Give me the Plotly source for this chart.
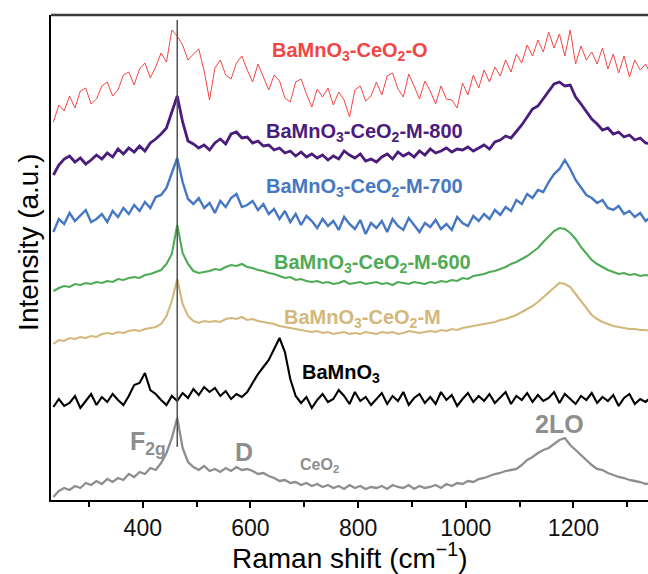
import plotly.graph_objects as go

# Raman shift sampling grid (cm-1)
raman_shift = list(range(234, 1345, 10))

# Intensities (a.u., vertically stacked as plotted)
ceo2_o = [378, 395, 389, 404, 392, 409, 412, 396, 401, 414,
          418, 404, 410, 425, 428, 415, 431, 437, 422, 433,
          447, 438, 470, 464, 455, 440, 446, 451, 429, 400,
          432, 440, 425, 421, 437, 444, 430, 418, 436, 422,
          410, 425, 419, 402, 398, 418, 421, 406, 393, 411,
          403, 412, 395, 408, 400, 383, 410, 414, 399, 404,
          418, 405, 424, 427, 411, 403, 426, 414, 401, 419,
          409, 396, 414, 401, 400, 392, 417, 405, 425, 412,
          430, 418, 433, 424, 440, 428, 446, 437, 455, 444,
          460, 448, 468, 452, 466, 444, 470, 436, 454, 440,
          448, 436, 452, 431, 446, 427, 444, 423, 440, 430,
          436, 425]

m_800 = [325, 335, 341, 344, 338, 342, 336, 340, 345, 341,
         347, 343, 351, 346, 352, 348, 354, 349, 357, 361,
         366, 372, 388, 404, 378, 359, 356, 352, 355, 350,
         357, 361, 356, 366, 368, 362, 363, 357, 359, 354,
         355, 350, 352, 347, 349, 344, 348, 343, 346, 342,
         345, 340, 344, 341, 349, 345, 342, 346, 339, 341,
         338, 343, 346, 341, 348, 344, 347, 343, 349, 345,
         351, 347, 349, 352, 348, 351, 350, 353, 349, 352,
         355, 351, 358, 360, 364, 362, 368, 375, 383, 391,
         394, 401, 408, 416, 418, 414, 415, 403, 396, 388,
         381, 376, 370, 372, 366, 368, 363, 365, 360, 362,
         357, 356]

m_700 = [268, 281, 276, 287, 279, 285, 290, 278, 281, 286,
         278, 289, 283, 292, 286, 295, 289, 298, 292, 303,
         305, 312, 326, 342, 318, 301, 296, 302, 292, 297,
         287, 299, 293, 302, 306, 293, 295, 299, 290, 296,
         286, 291, 281, 289, 278, 286, 275, 284, 279, 272,
         281, 274, 279, 270, 283, 276, 271, 280, 266, 277,
         272, 279, 268, 281, 274, 270, 282, 275, 268, 277,
         273, 280, 271, 276, 270, 283, 277, 274, 284, 279,
         286, 281, 290, 285, 293, 289, 300, 296, 306, 302,
         310, 308, 318, 326, 331, 340, 331, 320, 312, 305,
         302, 297, 300, 292, 290, 294, 286, 289, 283, 287,
         279, 283]

m_600 = [209, 212, 214, 213, 216, 215, 217, 216, 218, 217,
         219, 218, 221, 220, 222, 223, 222, 225, 226, 228,
         230, 236, 246, 275, 247, 236, 229, 227, 228, 229,
         231, 230, 233, 235, 234, 236, 233, 232, 230, 229,
         227, 226, 224, 222, 223, 220, 221, 219, 218, 219,
         217, 218, 216, 217, 219, 216, 217, 218, 216, 217,
         218, 216, 217, 215, 218, 217, 216, 218, 217, 216,
         218, 217, 219, 218, 220, 219, 222, 221, 224, 225,
         226, 228, 229, 231, 233, 236, 238, 241, 244, 248,
         252, 258, 264, 269, 272, 271, 267, 261, 253, 246,
         240, 236, 233, 230, 228, 226, 227, 225, 226, 224,
         225, 224]

m_plain = [156, 160, 159, 162, 161, 163, 162, 164, 163, 166,
           167, 166, 168, 167, 169, 170, 169, 171, 172, 173,
           176, 184, 199, 221, 196, 184, 179, 177, 179, 178,
           179, 178, 181, 182, 181, 183, 180, 181, 179, 178,
           177, 176, 174, 173, 172, 171, 170, 169, 168, 169,
           167, 168, 166, 167, 168, 166, 167, 166, 168, 167,
           166, 168, 167, 168, 166, 167, 169, 168, 167, 168,
           169, 168, 170, 169, 171, 170, 172, 173, 174, 175,
           176, 177, 178, 180, 181, 183, 185, 188, 191, 194,
           198, 203, 208, 213, 217, 216, 213, 206, 199, 192,
           185, 181, 178, 176, 174, 173, 172, 171, 171, 170,
           170, 169]

bamno3 = [93, 101, 94, 97, 104, 92, 99, 106, 95, 103,
          98, 106, 100, 95, 104, 115, 117, 127, 110, 106,
          100, 95, 104, 99, 107, 102, 111, 105, 113, 108,
          112, 104, 109, 101, 106, 103, 108, 117, 126, 133,
          140, 151, 162, 148, 121, 104, 97, 103, 92, 100,
          106, 98, 101, 110, 104, 96, 108, 99, 103, 95,
          101, 107, 96, 104, 99, 108, 95, 102, 106, 97,
          103, 96, 108, 100, 105, 94, 101, 107, 98, 104,
          99, 106, 97, 103, 108, 96, 104, 100, 107, 98,
          105, 99, 102, 108, 97, 106, 101, 96, 104, 100,
          107, 97, 103, 99, 105, 94, 102, 106, 96, 101,
          98, 103]

ceo2 = [3, 9, 12, 10, 14, 12, 17, 15, 19, 16,
        21, 18, 22, 20, 26, 23, 28, 26, 32, 30,
        37, 47, 62, 82, 52, 38, 33, 30, 34, 29,
        31, 28, 32, 29, 33, 30, 31, 29, 26, 27,
        24, 22, 19, 20, 17, 18, 15, 17, 14, 16,
        13, 15, 12, 14, 11, 15, 12, 14, 11, 13,
        12, 14, 11, 15, 13, 12, 15, 11, 14, 12,
        13, 15, 12, 16, 14, 17, 16, 19, 18, 21,
        22, 24, 26, 27, 29, 30, 31, 35, 40, 43,
        47, 50, 52, 56, 60, 62, 55, 50, 45, 39,
        35, 31, 30, 27, 25, 23, 22, 20, 19, 18,
        16, 17]

series_names = ["BaMnO<sub>3</sub>-CeO<sub>2</sub>-O",
                "BaMnO<sub>3</sub>-CeO<sub>2</sub>-M-800",
                "BaMnO<sub>3</sub>-CeO<sub>2</sub>-M-700",
                "BaMnO<sub>3</sub>-CeO<sub>2</sub>-M-600",
                "BaMnO<sub>3</sub>-CeO<sub>2</sub>-M",
                "BaMnO<sub>3</sub>",
                "CeO<sub>2</sub>"]
series_values = [ceo2_o, m_800, m_700, m_600, m_plain, bamno3, ceo2]
series_colors = ["#F24545", "#4A1C7C", "#4677C2", "#4FAA55", "#D3B77B", "#000000", "#8E8E8E"]
series_widths = [1.0, 2.8, 2.4, 2.1, 2.1, 2.1, 2.3]

# label placement (x in cm-1, y in a.u.)
label_x = [784, 812, 812, 827, 808, 768, 729]
label_y = [449, 368, 313, 237, 182, 127, 35]
label_size = [20, 20, 20, 20, 20, 20, 16]

f2g_position = 464
x_range = [229.5, 1338.5]
y_range = [0, 485]

fig = go.Figure()
for name, vals, col, w in zip(series_names, series_values, series_colors, series_widths):
    assert len(vals) == len(raman_shift)
    fig.add_trace(go.Scatter(x=raman_shift, y=vals, mode="lines", name=name,
                             line=dict(color=col, width=w), showlegend=False))

font_family = "Liberation Sans, Arial, sans-serif"
annotations = []
for name, lx, ly, col, fs in zip(series_names, label_x, label_y, series_colors, label_size):
    annotations.append(dict(x=lx, y=ly, xref="x", yref="y", text="<b>" + name + "</b>",
                            showarrow=False, font=dict(color=col, size=fs, family=font_family),
                            xanchor="center", yanchor="middle"))

gray = "#8E8E8E"
annotations += [
    dict(x=372, y=57, xref="x", yref="y", text="<b>F<sub>2g</sub></b>", showarrow=False,
         font=dict(color=gray, size=25, family=font_family), xanchor="left", yanchor="middle"),
    dict(x=588, y=48, xref="x", yref="y", text="<b>D</b>", showarrow=False,
         font=dict(color=gray, size=25, family=font_family), xanchor="center", yanchor="middle"),
    dict(x=1174, y=76, xref="x", yref="y", text="<b>2LO</b>", showarrow=False,
         font=dict(color=gray, size=25, family=font_family), xanchor="center", yanchor="middle"),
    dict(x=0.5, y=-0.115, xref="paper", yref="paper", text="Raman shift (cm<sup>\u22121</sup>)",
         showarrow=False, font=dict(color="#000", size=28, family=font_family),
         xanchor="center", yanchor="middle"),
    dict(x=-0.037, y=0.532, xref="paper", yref="paper", text="Intensity (a.u.)", textangle=-90,
         showarrow=False, font=dict(color="#000", size=28, family=font_family),
         xanchor="center", yanchor="middle"),
]

fig.update_layout(
    width=648, height=574,
    margin=dict(l=51, r=0, t=15, b=74),
    plot_bgcolor="white", paper_bgcolor="white",
    font=dict(family=font_family, color="#000"),
    annotations=annotations,
    shapes=[
        dict(type="line", xref="x", yref="y", x0=f2g_position, x1=f2g_position, y0=53, y1=480,
             line=dict(color="#505050", width=1.5), layer="above"),
        dict(type="line", xref="paper", yref="paper", x0=0, x1=1, y0=1, y1=1,
             line=dict(color="#3A3A3A", width=2.5), layer="above"),
    ],
)
fig.update_xaxes(range=x_range, showgrid=False, zeroline=False, showline=True,
                 linecolor="#000", linewidth=1.8, ticks="outside", ticklen=6, tickwidth=1.5,
                 tickcolor="#000", dtick=200, tick0=0, tickfont=dict(size=23, color="#111"),
                 minor=dict(dtick=100, tick0=0, ticks="outside", ticklen=5, tickwidth=1.5, tickcolor="#000"))
fig.update_yaxes(range=y_range, showgrid=False, zeroline=False, showline=True,
                 linecolor="#000", linewidth=1.8, ticks="", showticklabels=False)

fig.write_html("out.html")
